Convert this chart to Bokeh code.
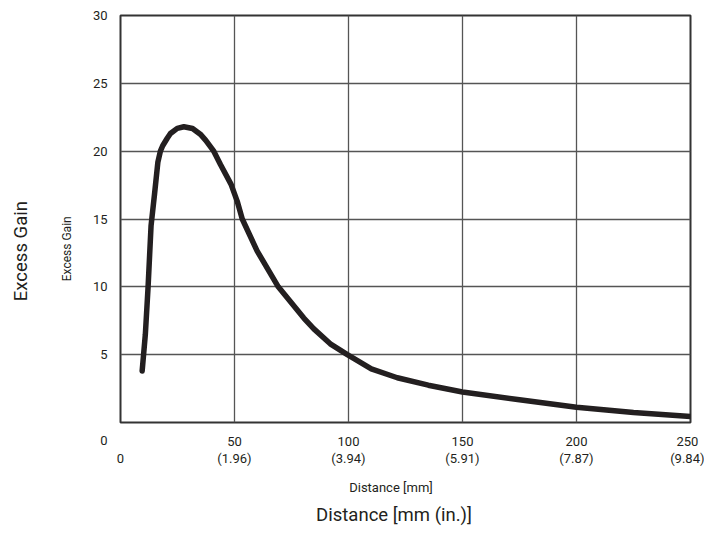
from bokeh.plotting import figure
from bokeh.models import FixedTicker, LinearAxis
from bokeh.embed import file_html
from bokeh.resources import INLINE

# ---- data ----
distance_mm = [9.5, 10.9, 12.1, 13.4, 14.9, 16.4, 17.5, 18.5, 20.5, 21.9, 24.9, 27.8, 31.6,
               35, 37.4, 40.9, 43.9, 48.5, 51.2, 53.4, 59.9, 69.2, 80.4, 84.8, 92, 99.5,
               110, 121.4, 135, 150, 175, 200, 225, 250]
excess_gain = [3.8, 6.5, 10, 14.5, 16.8, 19.2, 20, 20.4, 20.95, 21.3, 21.68, 21.8, 21.67,
               21.25, 20.8, 20, 19.0, 17.55, 16.3, 15, 12.65, 10, 7.7, 6.9, 5.8, 5.0,
               3.95, 3.3, 2.75, 2.25, 1.67, 1.13, 0.74, 0.45]
x_ticks = [0, 50, 100, 150, 200, 250]
x_tick_mm = ["", "50", "100", "150", "200", "250"]
x_tick_in = ["0", "(1.96)", "(3.94)", "(5.91)", "(7.87)", "(9.84)"]
y_ticks = [0, 5, 10, 15, 20, 25, 30]
y_tick_labels = ["0", "5", "10", "15", "20", "25", "30"]

FONT = "Roboto"
TXT = "#231f20"
NB = "\u00a0"

p = figure(width=704, height=530, x_range=(0, 250), y_range=(0, 30),
           output_backend="svg", toolbar_location=None,
           min_border_left=120, min_border_right=14, min_border_top=15, min_border_bottom=108)
p.background_fill_color = "white"
p.border_fill_color = "white"
p.outline_line_color = "#333333"
p.outline_line_width = 2

p.xgrid.ticker = FixedTicker(ticks=x_ticks[1:])
p.ygrid.ticker = FixedTicker(ticks=y_ticks[1:])
for g in (p.xgrid, p.ygrid):
    g.grid_line_color = "#555555"
    g.grid_line_width = 1.3

xa = p.xaxis[0]
ya = p.yaxis[0]
xa.ticker = FixedTicker(ticks=x_ticks)
xa.major_label_overrides = {t: f"{a}\n{b}" for t, a, b in zip(x_ticks, x_tick_mm, x_tick_in)}
ya.ticker = FixedTicker(ticks=y_ticks)
ya.major_label_overrides = {t: (s if t else "\n\n" + s) for t, s in zip(y_ticks, y_tick_labels)}
for ax in (xa, ya):
    ax.axis_line_color = None
    ax.major_tick_line_color = None
    ax.minor_tick_line_color = None
    ax.major_tick_out = 0
    ax.major_tick_in = 0
    ax.major_label_text_font = FONT
    ax.major_label_text_font_size = "13px"
    ax.major_label_text_color = TXT
    ax.axis_label_text_font = FONT
    ax.axis_label_text_font_style = "normal"
    ax.axis_label_text_color = TXT
ya.major_label_standoff = 13
xa.major_label_standoff = 11
xa.major_label_text_line_height = 1.15
ya.major_label_text_line_height = 1.2
# trailing no-break spaces shift the centred titles to where the reference has them
ya.axis_label = "Excess Gain" + NB * 20
ya.axis_label_text_font_size = "12px"
ya.axis_label_standoff = 16
xa.axis_label = "Distance [mm]" + NB * 9
xa.axis_label_text_font_size = "13px"
xa.axis_label_standoff = 11

# outer (larger) axis titles
ya2 = LinearAxis(ticker=FixedTicker(ticks=[]), axis_label="Excess Gain" + NB * 14)
xa2 = LinearAxis(ticker=FixedTicker(ticks=[]), axis_label="Distance [mm (in.)]" + NB * 5)
for ax, so in ((ya2, 25), (xa2, 6)):
    ax.axis_line_color = None
    ax.major_tick_line_color = None
    ax.minor_tick_line_color = None
    ax.major_tick_out = 0
    ax.major_tick_in = 0
    ax.major_label_standoff = 0
    ax.major_label_text_font_size = "0px"
    ax.axis_label_text_font = FONT
    ax.axis_label_text_font_style = "normal"
    ax.axis_label_text_color = TXT
    ax.axis_label_text_font_size = "18.5px"
    ax.axis_label_standoff = so
p.add_layout(ya2, "left")
p.add_layout(xa2, "below")

# curve
p.line(distance_mm, excess_gain, line_width=5.5, line_color="#231f20",
       line_join="round", line_cap="round")

open("out.html", "w").write(file_html(p, INLINE))
